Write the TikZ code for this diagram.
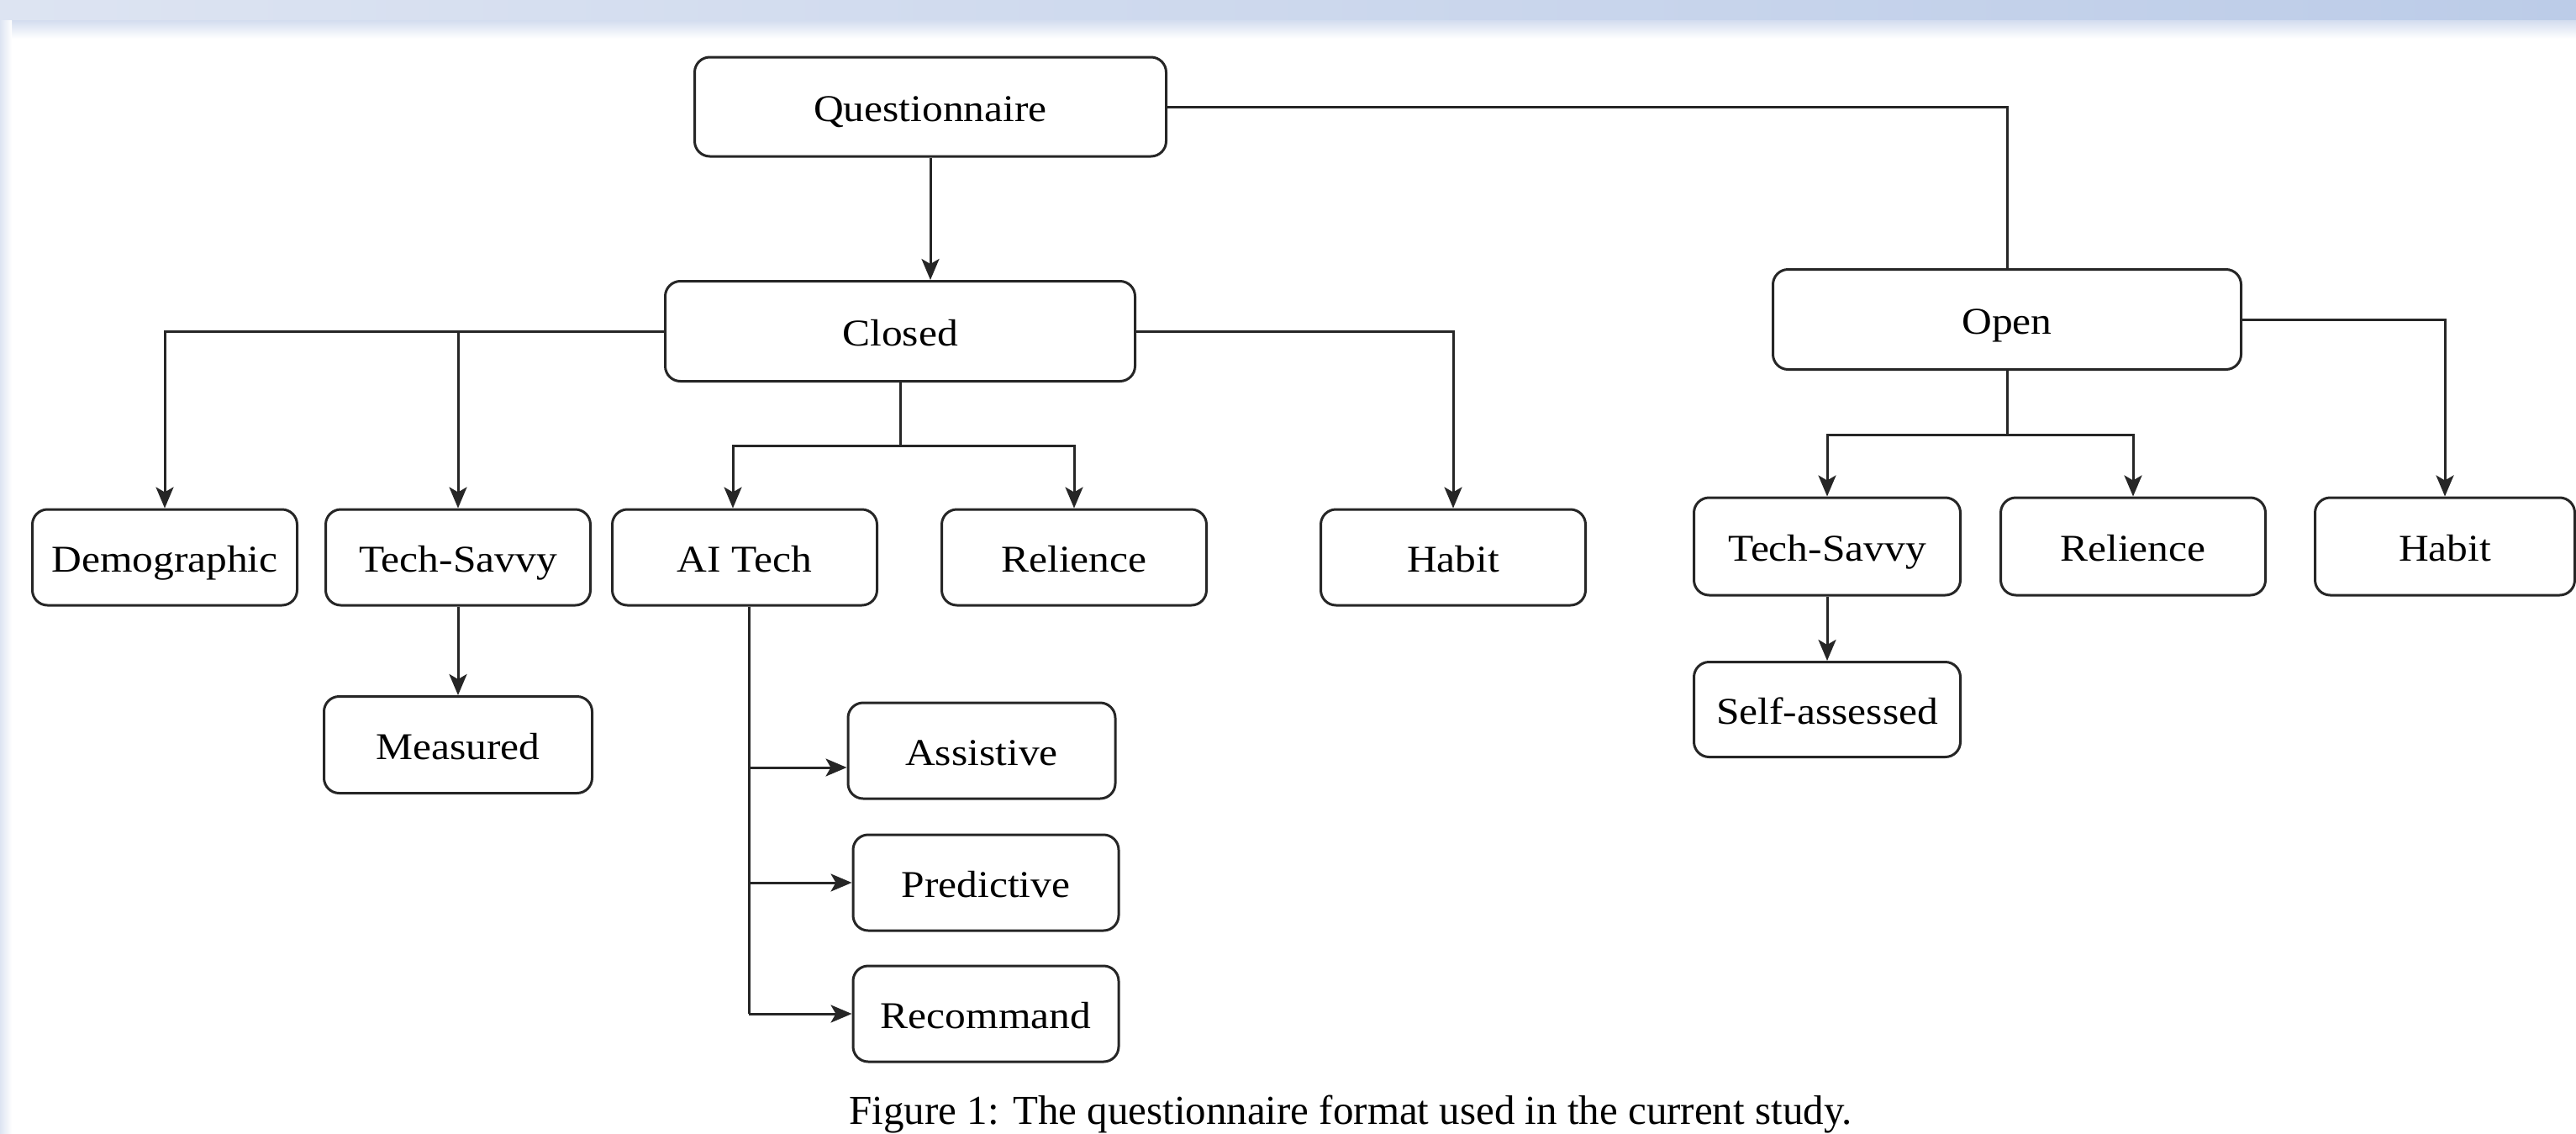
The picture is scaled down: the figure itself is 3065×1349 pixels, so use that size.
\documentclass[tikz,border=0pt]{standalone}
\usepackage{fontspec}
\setmainfont{Liberation Serif}
\newfontfamily\boxfont{Liberation Serif}[FakeStretch=1.1]
\usetikzlibrary{arrows.meta,calc}
\definecolor{bandL}{HTML}{DDE4F2}
\definecolor{bandR}{HTML}{BCCCE8}
\definecolor{linec}{HTML}{262626}
\tikzset{
  box/.style={draw=linec, line width=3pt, rounded corners=18pt, fill=white,
    minimum width=315pt, minimum height=114pt, inner sep=0pt,
    text height=34pt, text depth=0pt,
    font=\boxfont\fontsize{45}{50}\selectfont},
  conn/.style={draw=linec, line width=3pt},
  arr/.style={conn, -{Stealth[length=25pt,width=21pt,inset=6pt]}}
}
\begin{document}
\begin{tikzpicture}[x=1pt,y=-1pt]
\useasboundingbox (0,0) rectangle (3065,1349);
\fill[white] (0,0) rectangle (3065,1349);
% top band
\shade[left color=bandL, right color=bandR] (0,0) rectangle (3065,24);
\shade[top color=bandL!70!bandR, bottom color=white] (0,24) rectangle (3065,46);
\shade[left color=bandL, right color=white] (0,24) rectangle (14,1349);

% nodes
\node[box, minimum width=561pt, minimum height=118pt] (q) at (1107,127) {Questionnaire};
\node[box, minimum width=559pt, minimum height=119pt] (closed) at (1071,394) {Closed};
\node[box, minimum width=557pt, minimum height=119pt] (open) at (2388,380) {Open};

\node[box] (demo) at (196,663) {Demographic};
\node[box] (ts) at (545,663) {Tech-Savvy};
\node[box] (ait) at (886,663) {AI Tech};
\node[box] (rel) at (1278,663) {Relience};
\node[box] (hab) at (1729,663) {Habit};

\node[box, minimum width=319pt, minimum height=115pt] (meas) at (545,886) {Measured};
\node[box, minimum width=318pt] (assist) at (1168,893) {Assistive};
\node[box, minimum width=316pt] (pred) at (1173,1050) {Predictive};
\node[box, minimum width=316pt] (rec) at (1173,1206) {Recommand};

\node[box, minimum width=317pt, minimum height=116pt] (ts2) at (2174,650) {Tech-Savvy};
\node[box, minimum width=315pt, minimum height=116pt] (rel2) at (2538,650) {Relience};
\node[box, minimum width=309pt, minimum height=116pt] (hab2) at (2909,650) {Habit};
\node[box, minimum width=317pt, minimum height=113pt] (self) at (2174,844) {Self-assessed};

% connectors
\draw[arr] (q.south) -- (q.south |- closed.north);
\draw[conn] (q.east) -| (open.north);

\draw[arr] (closed.west) -| (demo.north);
\draw[arr] (closed.west -| ts.north) -- (ts.north);
\draw[arr] (closed.east) -| (hab.north);

\coordinate (cj) at ($(closed.south)+(0,75)$);
\coordinate (aitin) at ($(ait.north)+(-14,0)$);
\draw[conn] (closed.south) -- (cj);
\draw[arr] (cj) -| (aitin);
\draw[arr] (cj) -| (rel.north);

\draw[arr] (ts.south) -- (meas.north);

\coordinate (aout) at ($(ait.south)+(5,0)$);
\coordinate (a1) at ($(assist.west)+(0,20)$);
\draw[conn] (aout) -- (aout |- rec.west);
\draw[arr] (aout |- a1) -- (a1);
\draw[arr] (aout |- pred.west) -- (pred.west);
\draw[arr] (aout |- rec.west) -- (rec.west);

\coordinate (oj) at ($(open.south)+(0,76)$);
\draw[conn] (open.south) -- (oj);
\draw[arr] (oj) -| (ts2.north);
\draw[arr] (oj) -| (rel2.north);
\draw[arr] (open.east) -| (hab2.north);
\draw[arr] (ts2.south) -- (self.north);

% caption
\node[anchor=base, inner sep=0pt, font=\fontsize{49}{55}\selectfont] (cap) at (1607,1337)
  {Figure 1: The questionnaire format used in the current study.};
\end{tikzpicture}
\end{document}
